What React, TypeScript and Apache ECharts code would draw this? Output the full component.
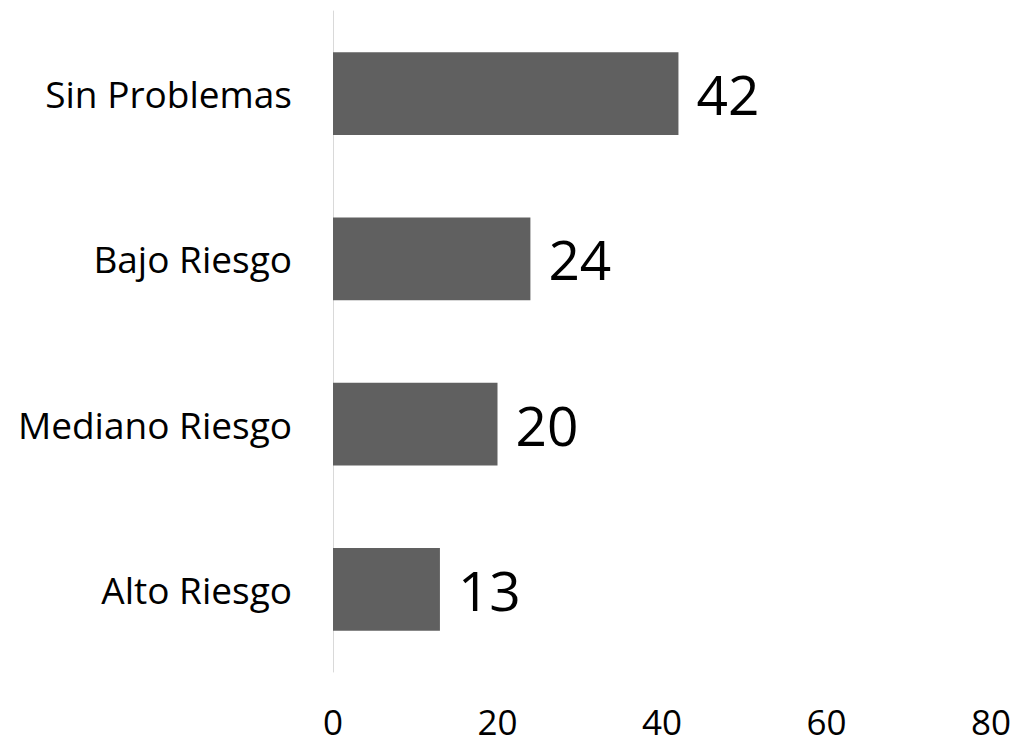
import React, { useEffect, useRef } from "react";
import * as echarts from "echarts";

const categories = ["Alto Riesgo", "Mediano Riesgo", "Bajo Riesgo", "Sin Problemas"];
const values = [13, 20, 24, 42];
const xTicks = [0, 20, 40, 60, 80];

const FONT = "Open Sans";

export default function App() {
  const ref = useRef<HTMLDivElement>(null);
  useEffect(() => {
    if (!ref.current) return;
    const chart = echarts.init(ref.current, undefined, { renderer: "svg" });
    chart.setOption({
      animation: false,
      backgroundColor: "#ffffff",
      grid: { left: 333, right: 24, top: 11, bottom: 72, containLabel: false },
      xAxis: {
        type: "value",
        min: xTicks[0],
        max: xTicks[xTicks.length - 1],
        interval: 20,
        splitLine: { show: false },
        axisLine: { show: false },
        axisTick: { show: false },
        axisLabel: {
          margin: 33,
          fontSize: 35,
          lineHeight: 33,
          fontFamily: FONT,
          color: "#000000",
        },
      },
      yAxis: {
        type: "category",
        data: categories,
        axisLine: { show: true, lineStyle: { color: "#d9d9d9", width: 1 } },
        axisTick: { show: false },
        splitLine: { show: false },
        axisLabel: {
          margin: 41,
          fontSize: 37,
          fontFamily: FONT,
          color: "#000000",
        },
      },
      series: [
        {
          type: "bar",
          data: values,
          barCategoryGap: "50%",
          itemStyle: { color: "#606060" },
          label: {
            show: true,
            position: "right",
            distance: 18,
            fontSize: 55,
            fontFamily: FONT,
            color: "#000000",
          },
        },
      ],
    });
    return () => chart.dispose();
  }, []);
  return (
    <div
      ref={ref}
      style={{ position: "fixed", left: 0, top: 0, width: 1015, height: 744, background: "#fff" }}
    />
  );
}
